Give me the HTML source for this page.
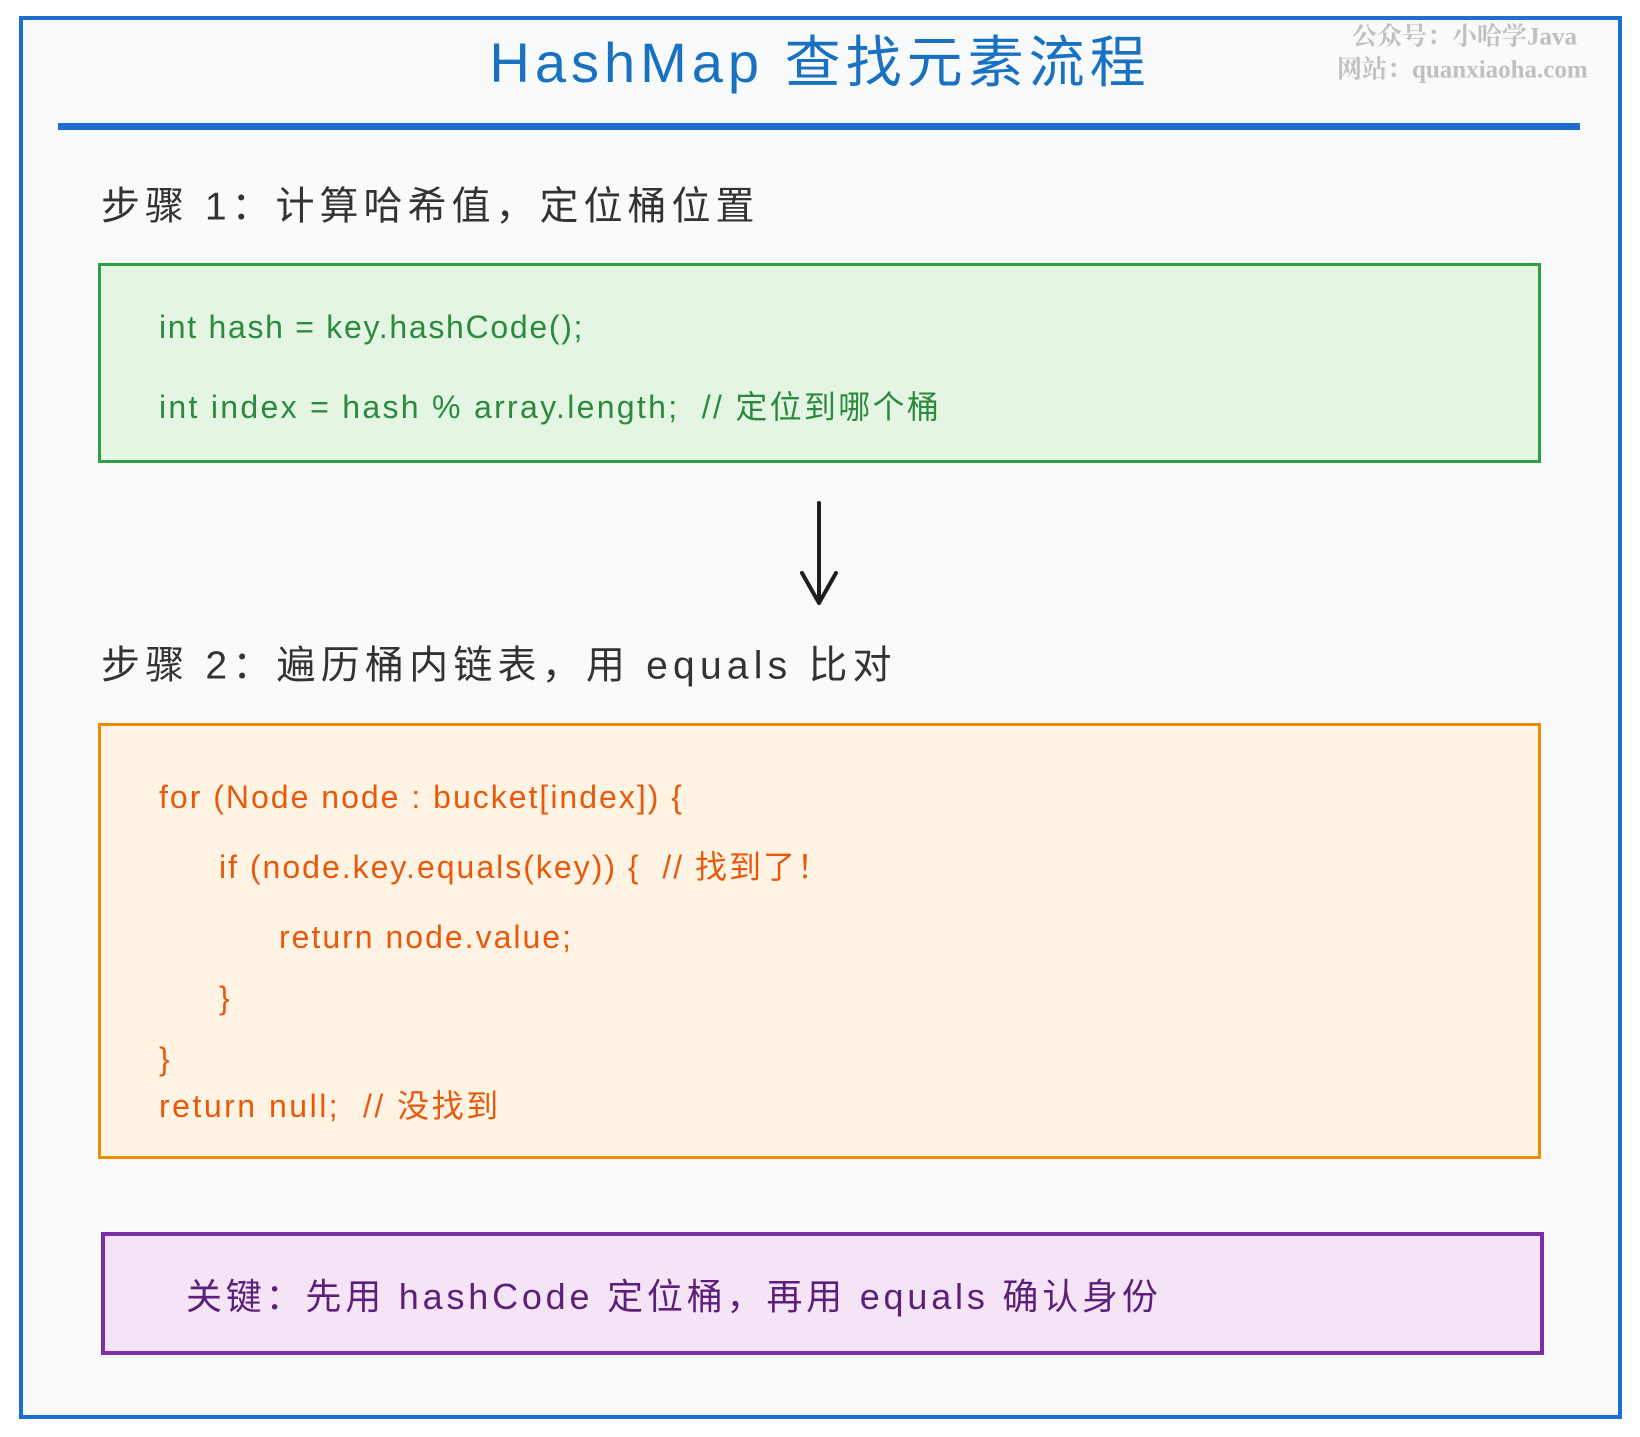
<!DOCTYPE html>
<html><head><meta charset="utf-8"><style>
*{margin:0;padding:0;box-sizing:border-box}
body{width:1640px;height:1437px;background:#fff;position:relative;overflow:hidden;font-family:"Liberation Sans","Noto Sans CJK SC",sans-serif}
.a{position:absolute;white-space:nowrap}
.t{line-height:1;transform:translateY(-50%)}
</style></head><body>
<div class="a" style="left:19px;top:16px;width:1603px;height:1403px;border:4px solid #1c6fd0;background:#f9fafb"></div>
<div class="a t" style="left:0;width:1640px;text-align:center;top:63px;font-size:56px;color:#1971c2;letter-spacing:5px">HashMap 查找元素流程</div>
<div class="a t" style="left:1352px;top:37px;font-size:25px;font-weight:bold;color:#c0c0c0;font-family:'Liberation Serif','Noto Serif CJK SC',serif">公众号：小哈学Java</div>
<div class="a t" style="left:1337px;top:70px;font-size:25px;font-weight:bold;color:#c0c0c0;font-family:'Liberation Serif','Noto Serif CJK SC',serif">网站：quanxiaoha.com</div>
<div class="a" style="left:58px;top:123px;width:1522px;height:7px;background:#1c6fd0"></div>
<div class="a t" style="left:101px;top:207px;font-size:39px;color:#333;letter-spacing:5px">步骤 1：计算哈希值，定位桶位置</div>
<div class="a" style="left:98px;top:263px;width:1443px;height:200px;border:3px solid #2f9e44;background:#e5f5e3"></div>
<div class="a t" style="left:159px;top:327px;font-size:32px;color:#2b8a3e;letter-spacing:1.7px">int hash = key.hashCode();</div>
<div class="a t" style="left:159px;top:407px;font-size:32px;color:#2b8a3e;letter-spacing:2.3px">int index = hash % array.length; &nbsp;// 定位到哪个桶</div>
<svg class="a" style="left:790px;top:495px" width="60" height="120"><path d="M29 8 L29 108 M12 78 L29 108 L46 78" stroke="#1e1e1e" stroke-width="4" fill="none" stroke-linecap="round" stroke-linejoin="round"/></svg>
<div class="a t" style="left:101px;top:666px;font-size:39px;color:#333;letter-spacing:5.2px">步骤 2：遍历桶内链表，用 equals 比对</div>
<div class="a" style="left:98px;top:723px;width:1443px;height:436px;border:3px solid #f08c00;background:#fff4e4"></div>
<div class="a t" style="left:159px;top:797px;font-size:32px;color:#e8590c;letter-spacing:2px">for (Node node : bucket[index]) {</div>
<div class="a t" style="left:219px;top:867px;font-size:32px;color:#e8590c;letter-spacing:2px">if (node.key.equals(key)) { &nbsp;// 找到了！</div>
<div class="a t" style="left:279px;top:937px;font-size:32px;color:#e8590c;letter-spacing:2px">return node.value;</div>
<div class="a t" style="left:219px;top:998px;font-size:32px;color:#e8590c">}</div>
<div class="a t" style="left:159px;top:1059px;font-size:32px;color:#e8590c">}</div>
<div class="a t" style="left:159px;top:1106px;font-size:32px;color:#e8590c;letter-spacing:2.5px">return null; &nbsp;// 没找到</div>
<div class="a" style="left:101px;top:1232px;width:1443px;height:123px;border:4px solid #7b2fa8;background:#f4e4f6"></div>
<div class="a t" style="left:186px;top:1297px;font-size:36px;color:#5c1f7a;letter-spacing:3.8px">关键：先用 hashCode 定位桶，再用 equals 确认身份</div>
</body></html>
